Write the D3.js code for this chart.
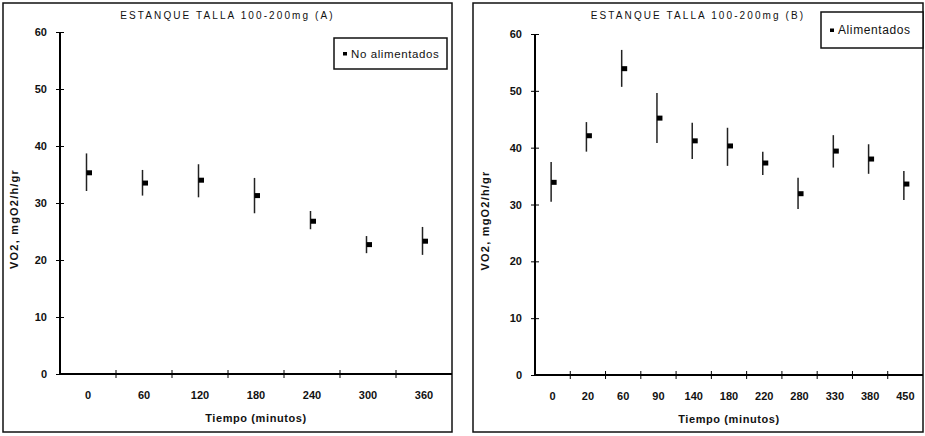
<!DOCTYPE html>
<html>
<head>
<meta charset="utf-8">
<script src="https://cdn.jsdelivr.net/npm/d3@7"></script>
<style>
  body { margin: 0; background: #fff; }
  svg { display: block; font-family: "Liberation Sans", Arial, sans-serif; }
</style>
</head>
<body>
<svg id="chart" width="925" height="436"></svg>
<script>
// panel A - no alimentados
const timesA = ["0", "60", "120", "180", "240", "300", "360"];
const meanA = [35.3, 33.5, 34.0, 31.3, 26.8, 22.7, 23.3];
const lowA = [32.1, 31.3, 31.0, 28.2, 25.4, 21.2, 20.9];
const highA = [38.7, 35.8, 36.8, 34.4, 28.6, 24.2, 25.8];

// panel B - alimentados
const timesB = ["0", "20", "60", "90", "140", "180", "220", "280", "330", "380", "450"];
const meanB = [33.9, 42.1, 53.9, 45.2, 41.2, 40.3, 37.3, 31.9, 39.4, 38.0, 33.6];
const lowB = [30.5, 39.3, 50.7, 40.8, 38.0, 36.8, 35.2, 29.2, 36.5, 35.4, 30.8];
const highB = [37.5, 44.5, 57.2, 49.6, 44.4, 43.5, 39.3, 34.7, 42.2, 40.6, 35.9];

const yTicks = [0, 10, 20, 30, 40, 50, 60];

const svg = d3.select("#chart");

function drawPanel(p) {
    const g = svg.append("g");

    // outer frame
    g.append("rect")
        .attr("x", p.box[0]).attr("y", p.box[1])
        .attr("width", p.box[2] - p.box[0]).attr("height", p.box[3] - p.box[1])
        .attr("fill", "none").attr("stroke", "#111").attr("stroke-width", 1.5);

    const x = d3.scaleBand().domain(p.times).range([p.left, p.right]).padding(0);
    const y = d3.scaleLinear().domain([0, 60]).range([p.bottom, p.top]);

    // y axis
    const yAxis = g.append("g")
        .attr("transform", `translate(${p.left},0)`)
        .call(d3.axisLeft(y).tickValues(yTicks).tickSize(4).tickPadding(9));
    yAxis.select(".domain").attr("stroke", "#000").attr("stroke-width", 2)
        .attr("d", `M0,${p.bottom}V${p.top}`);
    yAxis.selectAll(".tick line").attr("x1", 4).attr("x2", -4).attr("stroke", "#000");
    yAxis.selectAll(".tick text")
        .attr("font-size", 11).attr("font-weight", "bold").attr("fill", "#111")
        .attr("font-family", "Liberation Sans, Arial, sans-serif");

    // x axis (labels at centre, ticks at category edges)
    const xAxis = g.append("g")
        .attr("transform", `translate(0,${p.bottom})`)
        .call(d3.axisBottom(x).tickSize(0).tickPadding(17));
    xAxis.select(".domain").attr("stroke", "#000").attr("stroke-width", 2)
        .attr("d", `M${p.left},0H${p.right}`);
    xAxis.selectAll(".tick text")
        .attr("font-size", 11).attr("font-weight", "bold").attr("fill", "#111")
        .attr("font-family", "Liberation Sans, Arial, sans-serif");
    const edges = p.times.slice(0, -1).map(t => x(t) + x.bandwidth());
    xAxis.selectAll(".edge").data(edges).enter().append("line")
        .attr("class", "edge")
        .attr("x1", d => d).attr("x2", d => d)
        .attr("y1", -4).attr("y2", 4)
        .attr("stroke", "#000").attr("stroke-width", 1);

    // error bars + markers
    const pts = p.times.map((t, i) => ({ t: t, m: p.mean[i], lo: p.low[i], hi: p.high[i] }));
    g.selectAll(".err").data(pts).enter().append("line")
        .attr("x1", d => x(d.t) + x.bandwidth() / 2 - 1.5)
        .attr("x2", d => x(d.t) + x.bandwidth() / 2 - 1.5)
        .attr("y1", d => y(d.lo)).attr("y2", d => y(d.hi))
        .attr("stroke", "#222").attr("stroke-width", 1.5);
    g.selectAll(".mk").data(pts).enter().append("rect")
        .attr("x", d => x(d.t) + x.bandwidth() / 2 - 1.5)
        .attr("y", d => y(d.m) - 2.5)
        .attr("width", 5.5).attr("height", 5)
        .attr("fill", "#000");

    // title
    g.append("text")
        .attr("x", (p.box[0] + p.box[2]) / 2).attr("y", 19)
        .attr("text-anchor", "middle")
        .attr("font-size", 10).attr("letter-spacing", 2.1).attr("fill", "#111")
        .text(p.title);

    // axis titles
    g.append("text")
        .attr("x", (p.left + p.right) / 2).attr("y", p.bottom + 48)
        .attr("text-anchor", "middle")
        .attr("font-size", 11).attr("font-weight", "bold").attr("letter-spacing", 0.6).attr("fill", "#111")
        .text("Tiempo (minutos)");
    g.append("text")
        .attr("transform", `translate(${p.left - p.ylabOff},${(p.top + p.bottom) / 2 + 16}) rotate(-90)`)
        .attr("text-anchor", "middle")
        .attr("font-size", 11).attr("font-weight", "bold").attr("letter-spacing", 1.2).attr("fill", "#111")
        .text("VO2, mgO2/h/gr");

    // legend
    const L = p.legend;
    g.append("rect")
        .attr("x", L.x).attr("y", L.y).attr("width", L.w).attr("height", L.h)
        .attr("fill", "#fff").attr("stroke", "#111").attr("stroke-width", 1.5);
    g.append("rect")
        .attr("x", L.x + L.mx).attr("y", L.y + L.h / 2 - 1.5)
        .attr("width", 4).attr("height", 3.5).attr("fill", "#000");
    g.append("text")
        .attr("x", L.x + L.mx + 8).attr("y", L.y + L.h / 2 + 4)
        .attr("font-size", L.fs).attr("letter-spacing", L.ls).attr("fill", "#111")
        .text(p.series);
}

drawPanel({
    box: [3, 3, 452, 432],
    left: 60, right: 452, top: 32, bottom: 374,
    ylabOff: 42,
    times: timesA, mean: meanA, low: lowA, high: highA,
    title: "ESTANQUE TALLA 100-200mg (A)",
    series: "No alimentados",
    legend: { x: 334, y: 38, w: 113, h: 31, mx: 9, fs: 11.5, ls: 0.6 }
});

drawPanel({
    box: [473, 3, 923, 432],
    left: 535, right: 923, top: 34, bottom: 375,
    ylabOff: 46,
    times: timesB, mean: meanB, low: lowB, high: highB,
    title: "ESTANQUE TALLA  100-200mg (B)",
    series: "Alimentados",
    legend: { x: 821, y: 12, w: 102, h: 36, mx: 9, fs: 12, ls: 0.6 }
});
</script>
</body>
</html>
